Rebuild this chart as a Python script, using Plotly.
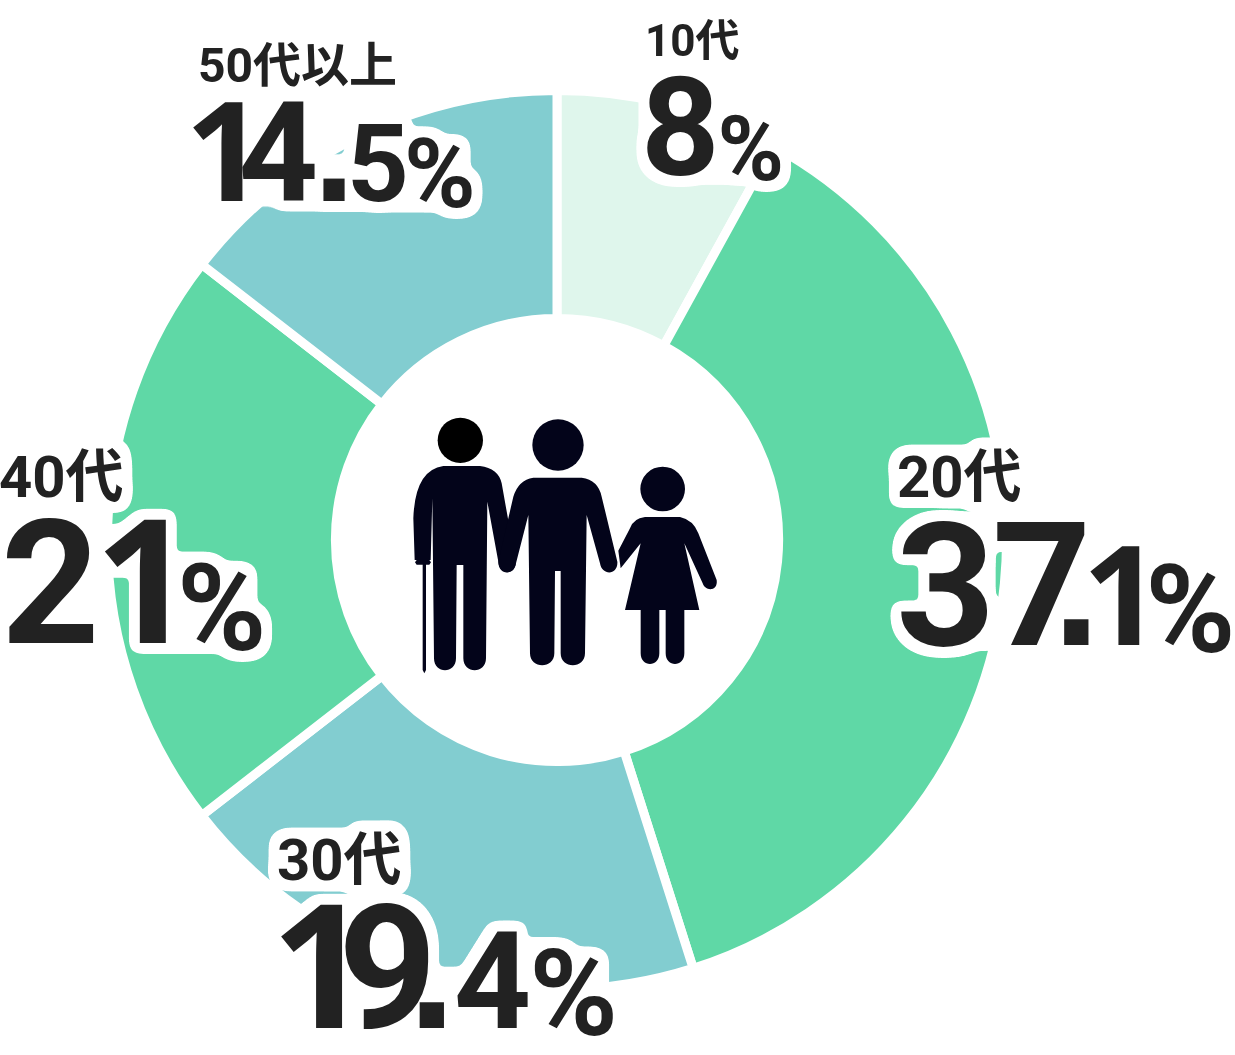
import plotly.graph_objects as go

categories = ["10代", "20代", "30代", "40代", "50代以上"]
values = [8, 37.1, 19.4, 21, 14.5]
slice_colors = ["#dff6ec", "#5fd8a6", "#82cdd0", "#5fd8a6", "#82cdd0"]
big_texts = ["8%", "37.1%", "19.4%", "21%", "14.5%"]

W, H = 1235, 1055
CX, CY, R = 557, 540, 449.5
INK = "#222222"
FONT = "Roboto, 'Noto Sans CJK JP', sans-serif"

# px placement of the labels: left, baseline, font size
label_pos = [(644, 57, 44), (896, 497, 58), (276, 880, 58), (-2, 497, 58), (197, 83, 48)]
# px placement of the percentages: left, baseline
big_pos = [(640, 173), (895, 643), (270, 1034), (0, 649), (184, 207)]
# per character font size and tracking
big_sizes = [[137, 90], [173, 173, 172, 138, 122], [172, 172, 172, 135, 120], [172, 172, 121], [139, 139, 150, 108, 97]]
big_track = [[-2, 0], [-3, -39, -18, -16, 0], [-31, -29, -2, -2, 0], [-5, -16, 0], [-26, -5, -8, -5, 0]]
char_fonts = {"1": "Open Sans", ".": "Liberation Sans"}


def px(x):
    return x / W


def py(y):
    return 1 - y / H


fig = go.Figure(
    go.Pie(
        labels=categories,
        values=values,
        sort=False,
        direction="clockwise",
        rotation=0,
        hole=0.493,
        marker=dict(colors=slice_colors, line=dict(color="#ffffff", width=9)),
        textinfo="none",
        hoverinfo="none",
        showlegend=False,
        domain=dict(x=[px(CX - R), px(CX + R)], y=[py(CY + R), py(CY - R)]),
    )
)


def add_text(text, x, base, size):
    fig.add_annotation(
        text=text, xref="paper", yref="paper", x=px(x), y=py(base + size * 0.26),
        xanchor="left", yanchor="bottom", showarrow=False, align="left",
        font=dict(family=FONT, size=size, color=INK, weight=700),
        borderpad=0,
    )


for cat, (x, base, size) in zip(categories, label_pos):
    add_text(cat, x, base, size)

for txt, (x, base), sizes, track in zip(big_texts, big_pos, big_sizes, big_track):
    t = ""
    for ch, s, k in zip(txt, sizes, track):
        fam = f"font-family:'{char_fonts[ch]}';" if ch in char_fonts else ""
        drop = f"baseline-shift:{-round(s * 0.06)}px;" if ch == "%" else ""
        t += f'<span style="{fam}{drop}font-size:{s}px;letter-spacing:{k}px">{ch}</span>'
    add_text(t, x, base, sizes[0])


# icon helpers: coordinates are measured in the 3x crop at (400,405)
def zx(x):
    return px(400 + x / 3)


def zy(y):
    return py(405 + y / 3)


def icon_path(cmds):
    out = []
    for c in cmds:
        op, pts = c[0], c[1:]
        out.append(op + " ".join(f"{zx(pts[i]):.5f},{zy(pts[i + 1]):.5f}" for i in range(0, len(pts), 2)))
    return " ".join(out) + " Z"


def head(x, y, r, col):
    fig.add_shape(type="circle", xref="paper", yref="paper", x0=zx(x - r), x1=zx(x + r),
                  y0=zy(y + r), y1=zy(y - r), fillcolor=col, line_width=0)


def body(cmds, col="#03041a"):
    fig.add_shape(type="path", xref="paper", yref="paper", path=icon_path(cmds), fillcolor=col, line_width=0)


head(181, 106, 68, "#000000")
head(474, 120, 77, "#03041a")
head(788, 252, 67, "#03041a")

body([("M", 130, 183), ("L", 240, 183), ("Q", 295, 190, 305, 235), ("L", 347, 470), ("C", 350, 512, 298, 512, 295, 470),
      ("L", 262, 290), ("L", 258, 760), ("C", 258, 808, 190, 808, 190, 760), ("L", 190, 480), ("L", 170, 480),
      ("L", 168, 760), ("C", 168, 808, 102, 808, 102, 760), ("L", 97, 280), ("L", 92, 465), ("L", 44, 465),
      ("L", 40, 340), ("Q", 45, 195, 130, 183)])
body([("M", 68, 470), ("L", 78, 470), ("L", 78, 795), ("L", 73, 805), ("L", 68, 795)])
body([("M", 50, 465), ("L", 88, 465), ("L", 93, 472), ("L", 88, 479), ("L", 50, 479), ("L", 45, 472)])
body([("M", 400, 218), ("L", 545, 218), ("Q", 595, 225, 605, 275), ("L", 652, 470), ("C", 655, 512, 605, 512, 600, 475),
      ("L", 560, 330), ("L", 555, 745), ("C", 555, 793, 482, 793, 482, 745), ("L", 482, 498), ("L", 465, 498),
      ("L", 463, 745), ("C", 463, 793, 390, 793, 390, 745), ("L", 385, 330), ("L", 348, 475), ("C", 342, 512, 295, 512, 295, 470),
      ("L", 340, 275), ("Q", 355, 225, 400, 218)])
body([("M", 735, 336), ("L", 840, 336), ("Q", 880, 345, 895, 385), ("L", 950, 525), ("C", 955, 560, 915, 560, 908, 535),
      ("L", 853, 415), ("L", 898, 615), ("L", 853, 615), ("L", 853, 745), ("C", 853, 788, 797, 788, 797, 745),
      ("L", 797, 615), ("L", 778, 615), ("L", 778, 745), ("C", 778, 788, 722, 788, 722, 745), ("L", 722, 615),
      ("L", 675, 615), ("L", 722, 415), ("L", 662, 490), ("L", 655, 437), ("L", 690, 370), ("Q", 700, 340, 735, 336)])

fig.update_layout(width=W, height=H, margin=dict(l=0, r=0, t=0, b=0), paper_bgcolor="#ffffff",
                  plot_bgcolor="#ffffff")

# white rounded halo behind each text, with counters closed
halo_svg = (
    '<svg xmlns="http://www.w3.org/2000/svg" width="0" height="0" style="position:absolute">'
    '<filter id="halo" x="-30%" y="-50%" width="160%" height="200%" color-interpolation-filters="sRGB">'
    '<feMorphology in="SourceAlpha" operator="dilate" radius="20" result="d0"/>'
    '<feMorphology in="d0" operator="erode" radius="15" result="d"/>'
    '<feGaussianBlur in="d" stdDeviation="5" result="b"/>'
    '<feComponentTransfer in="b" result="t"><feFuncA type="linear" slope="30" intercept="-2.4"/></feComponentTransfer>'
    '<feFlood flood-color="#ffffff" result="w"/>'
    '<feComposite in="w" in2="t" operator="in" result="h"/>'
    '<feMerge><feMergeNode in="h"/><feMergeNode in="SourceGraphic"/></feMerge>'
    '</filter></svg>'
)
post = (
    "document.body.style.margin='0';"
    f"document.body.insertAdjacentHTML('beforeend','{halo_svg}');"
    "var applyHalo=function(){document.querySelectorAll('.annotation-text').forEach(function(e){"
    "e.style.filter='url(#halo)';});};"
    "applyHalo();setTimeout(applyHalo,50);"
)
fig.write_html("out.html", config=dict(displayModeBar=False), post_script=post)
